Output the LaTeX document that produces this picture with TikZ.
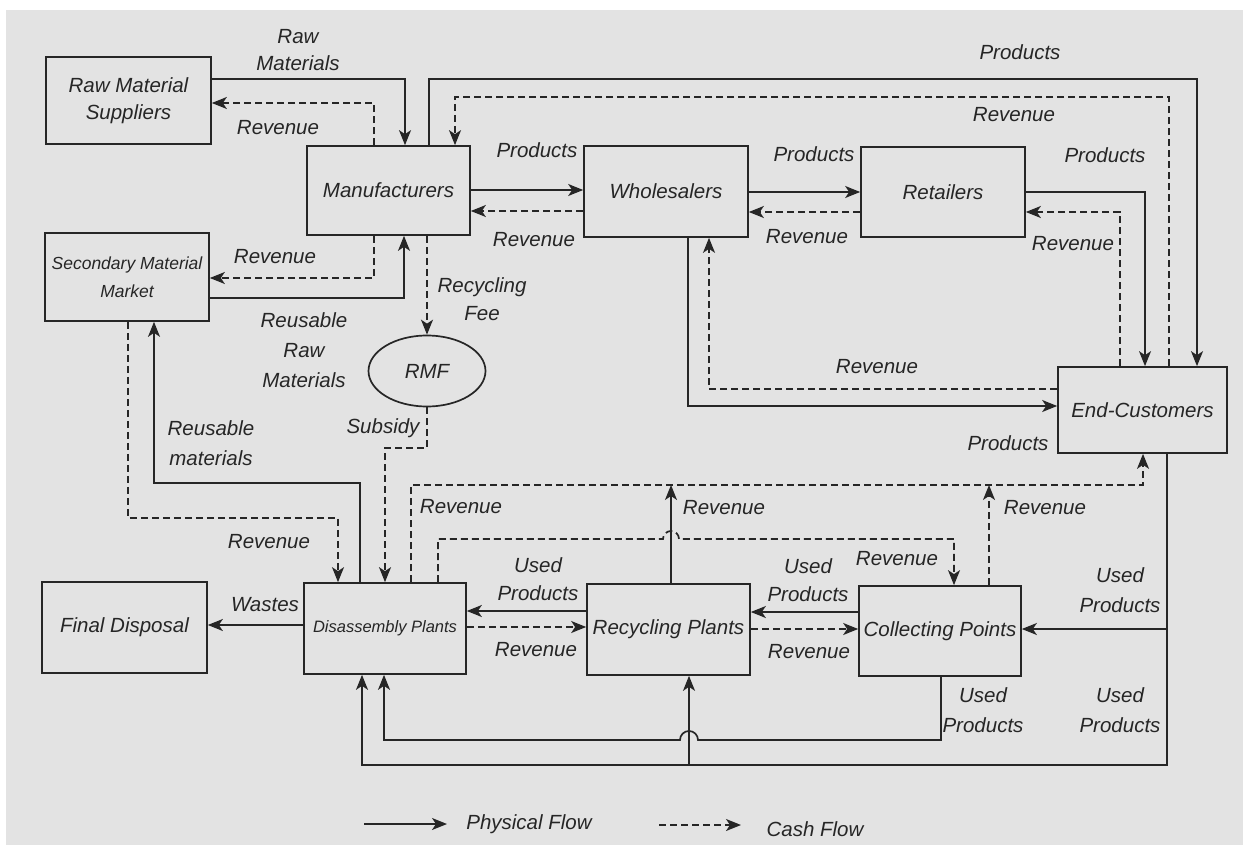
\documentclass[tikz,border=0pt]{standalone}
\usepackage{fontspec}
\setmainfont{Liberation Sans}
\usetikzlibrary{arrows.meta,shapes.geometric}
\begin{document}
\begin{tikzpicture}[x=1pt,y=-1pt,
  every node/.style={font=\fontsize{20.5}{27}\selectfont\itshape, text=black!85},
  box/.style={draw=black!85, line width=1.7pt, inner sep=0pt, align=center},
  lbl/.style={align=center, inner sep=0pt},
  phys/.style={draw=black!85, line width=1.7pt, -{Stealth[length=15pt,width=12pt,inset=4pt]}},
  cash/.style={draw=black!85, line width=1.7pt, dash pattern=on 7pt off 4pt, -{Stealth[length=15pt,width=12pt,inset=4pt]}},
]
\fill[white] (0,0) rectangle (1243,845);
\fill[gray!22] (6,10) rectangle (1243,845);
\useasboundingbox (0,0) rectangle (1243,845);

% boxes
\node[box, minimum width=165pt, minimum height=87pt] (rms) at (128.5,100.5) {Raw Material\\Suppliers};
\node[box, minimum width=163pt, minimum height=89pt] (man) at (388.5,190.5) {Manufacturers};
\node[box, minimum width=164pt, minimum height=91pt] (whl) at (666,191.5) {Wholesalers};
\node[box, minimum width=164pt, minimum height=90pt] (ret) at (943,192) {Retailers};
\node[box, minimum width=164pt, minimum height=88pt, font=\fontsize{17.5}{28}\selectfont\itshape] (smm) at (127,277) {Secondary Material\\Market};
\node[box, minimum width=169pt, minimum height=86pt] (end) at (1142.5,410) {End-Customers};
\node[box, minimum width=165pt, minimum height=91pt] (fd) at (124.5,627.5) {Final Disposal};
\node[box, minimum width=162pt, minimum height=91pt, font=\fontsize{16.5}{20}\selectfont\itshape] (dis) at (385,628.5) {Disassembly Plants};
\node[box, minimum width=163pt, minimum height=91pt] (rec) at (668.5,629.5) {Recycling Plants};
\node[box, minimum width=162pt, minimum height=90pt] (col) at (940,631) {Collecting Points};
\node[draw=black!85, line width=1.7pt, ellipse, minimum width=117pt, minimum height=71pt, inner sep=0pt] (rmf) at (427,371) {RMF};

% helper coordinates
\coordinate (j1) at (671,485);
\coordinate (j2) at (989,485);
\coordinate (b1) at (1167,629);
\coordinate (b2) at (689,765);

% top part
\draw[phys] (rms.east |- 0,79) -| (man.north -| 405,0);
\draw[cash] (man.north -| 374,0) |- (rms.east |- 0,103);
\draw[cash] (man.south -| 374,0) |- (smm.east |- 0,278);
\draw[phys] (smm.east |- 0,298) -| (man.south -| 404,0);
\draw[phys] (man.east |- 0,190) -- (whl.west |- 0,190);
\draw[cash] (whl.west |- 0,211) -- (man.east |- 0,211);
\draw[phys] (whl.east |- 0,192) -- (ret.west |- 0,192);
\draw[cash] (ret.west |- 0,212) -- (whl.east |- 0,212);
\draw[phys] (ret.east |- 0,192) -| (end.north -| 1145,0);
\draw[cash] (end.north -| 1120,0) |- (ret.east |- 0,212);
\draw[phys] (man.north -| 429,0) -- (429,79) -| (end.north -| 1197,0);
\draw[cash] (end.north -| 1169,0) -- (1169,97) -| (man.north -| 455,0);
\draw[phys] (whl.south -| 688,0) |- (end.west |- 0,406);
\draw[cash] (end.west |- 0,389) -| (whl.south -| 709,0);

% RMF
\draw[cash] (man.south -| 427,0) -- (rmf.north);
\draw[cash] (rmf.south) -- (427,448) -| (dis.north -| 385,0);

% disassembly top
\draw[phys] (dis.north -| 360,0) -- (360,483) -| (smm.south -| 154,0);
\draw[cash] (smm.south -| 128,0) -- (128,518) -| (dis.north -| 338,0);
\draw[cash] (dis.north -| 411,0) -- (411,485) -| (end.south -| 1143,0);
\draw[phys] (rec.north -| j1) -- (j1);
\draw[cash] (col.north -| j2) -- (j2);
\draw[cash] (dis.north -| 438,0) -- (438,539) -- (663,539) arc[start angle=180, end angle=0, radius=8pt] -- (954,539) -- (col.north -| 954,0);

% middle row
\draw[phys] (rec.west |- 0,611) -- (dis.east |- 0,611);
\draw[cash] (dis.east |- 0,627) -- (rec.west |- 0,627);
\draw[phys] (col.west |- 0,612) -- (rec.east |- 0,612);
\draw[cash] (rec.east |- 0,629) -- (col.west |- 0,629);
\draw[phys] (dis.west |- 0,625) -- (fd.east |- 0,625);

% bottom returns
\draw[phys] (end.south -| 1167,0) -- (1167,765) -| (dis.south -| 362,0);
\draw[phys] (b1) -- (col.east |- b1);
\draw[phys] (b2) -- (rec.south -| b2);
\draw[phys] (col.south -| 941,0) -- (941,740) -- (698,740) arc[start angle=0, end angle=180, radius=9pt] -- (384,740) -- (dis.south -| 384,0);

% labels
\node[lbl] (l1) at (298,50) {Raw\\Materials};
\node[lbl] (l2) at (278,128) {Revenue};
\node[lbl] (l3) at (275,257) {Revenue};
\node[lbl] (l4) at (537,150) {Products};
\node[lbl] (l5) at (534,240) {Revenue};
\node[lbl, font=\fontsize{20.5}{28}\selectfont\itshape] (l6) at (482,299) {Recycling\\Fee};
\node[lbl, font=\fontsize{20.5}{30}\selectfont\itshape] (l7) at (304,350) {Reusable\\Raw\\Materials};
\node[lbl] (l8) at (383,428) {Subsidy};
\node[lbl, font=\fontsize{20.5}{30}\selectfont\itshape] (l9) at (211,443) {Reusable\\materials};
\node[lbl] (l10) at (269,542) {Revenue};
\node[lbl] (l11) at (461,507) {Revenue};
\node[lbl, font=\fontsize{20.5}{28}\selectfont\itshape] (l12) at (538,579) {Used\\Products};
\node[lbl] (l13) at (536,650) {Revenue};
\node[lbl] (l14) at (265,605) {Wastes};
\node[lbl, font=\fontsize{20.5}{28}\selectfont\itshape] (l15) at (808,580) {Used\\Products};
\node[lbl] (l16) at (809,652) {Revenue};
\node[lbl] (l17) at (897,559) {Revenue};
\node[lbl, font=\fontsize{20.5}{30}\selectfont\itshape] (l18) at (1120,590) {Used\\Products};
\node[lbl, font=\fontsize{20.5}{30}\selectfont\itshape] (l19) at (983,710) {Used\\Products};
\node[lbl, font=\fontsize{20.5}{30}\selectfont\itshape] (l20) at (1120,710) {Used\\Products};
\node[lbl] (l21) at (724,508) {Revenue};
\node[lbl] (l22) at (1045,508) {Revenue};
\node[lbl] (l23) at (1008,443) {Products};
\node[lbl] (l24) at (877,367) {Revenue};
\node[lbl] (l25) at (1020,52) {Products};
\node[lbl] (l26) at (1014,115) {Revenue};
\node[lbl] (l27) at (814,154) {Products};
\node[lbl] (l28) at (807,237) {Revenue};
\node[lbl] (l29) at (1105,155) {Products};
\node[lbl] (l30) at (1073,244) {Revenue};

% legend
\coordinate (lp1) at (364,824);
\coordinate (lp2) at (447,824);
\draw[phys] (lp1) -- (lp2);
\node[lbl] (lpt) at (529,824) {Physical Flow};
\coordinate (lc1) at (659,825);
\coordinate (lc2) at (741,825);
\draw[cash] (lc1) -- (lc2);
\node[lbl] (lct) at (815,829) {Cash Flow};
\end{tikzpicture}
\end{document}
